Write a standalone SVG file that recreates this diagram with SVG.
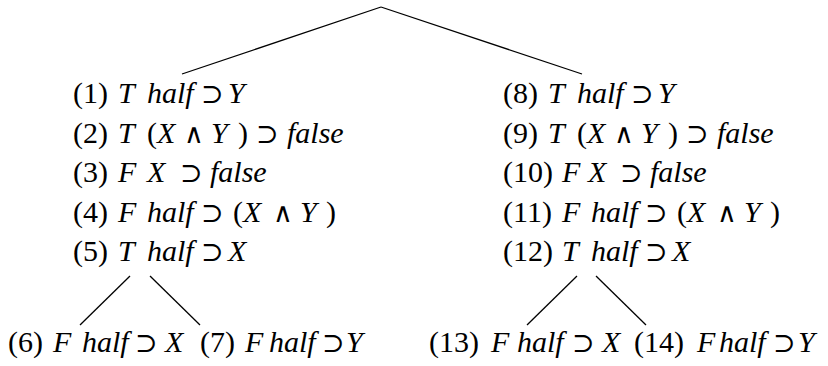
<svg xmlns="http://www.w3.org/2000/svg" width="828" height="366" viewBox="0 0 828 366">
<style>
.t{font-size:30px;fill:#000}
.i{font-style:italic}
.s{font-family:"DejaVu Serif","DejaVu Sans",serif;font-size:27px}
.e{stroke:#000;stroke-width:1.3;fill:none}
</style>
<rect width="828" height="366" fill="#fff"/>
<g id="connectors">
<line class="e" x1="381" y1="7" x2="182" y2="74"/>
<line class="e" x1="381" y1="7" x2="582" y2="74"/>
<line class="e" x1="130" y1="276" x2="80" y2="325"/>
<line class="e" x1="150" y1="276" x2="200" y2="325"/>
<line class="e" x1="577" y1="276" x2="527" y2="325"/>
<line class="e" x1="596" y1="276" x2="646" y2="325"/>
</g>
<g font-family="Liberation Serif, Times New Roman, serif">
<g id="node-left">
<text class="t" y="103"><tspan x="73">(1)</tspan><tspan class="i" x="118">T</tspan><tspan class="i" x="147">half</tspan><tspan class="s" x="201">⊃</tspan><tspan class="i" x="228">Y</tspan></text>
<text class="t" y="142.5"><tspan x="73">(2)</tspan><tspan class="i" x="118">T</tspan><tspan x="147">(</tspan><tspan class="i" x="157">X</tspan><tspan class="s" x="184">∧</tspan><tspan class="i" x="211">Y</tspan><tspan x="238">)</tspan><tspan class="s" x="256">⊃</tspan><tspan class="i" x="287">false</tspan></text>
<text class="t" y="182"><tspan x="73">(3)</tspan><tspan class="i" x="118">F</tspan><tspan class="i" x="147">X</tspan><tspan class="s" x="180">⊃</tspan><tspan class="i" x="210">false</tspan></text>
<text class="t" y="221.5"><tspan x="73">(4)</tspan><tspan class="i" x="118">F</tspan><tspan class="i" x="147">half</tspan><tspan class="s" x="201">⊃</tspan><tspan x="233">(</tspan><tspan class="i" x="243">X</tspan><tspan class="s" x="273">∧</tspan><tspan class="i" x="300">Y</tspan><tspan x="326">)</tspan></text>
<text class="t" y="261"><tspan x="73">(5)</tspan><tspan class="i" x="118">T</tspan><tspan class="i" x="147">half</tspan><tspan class="s" x="201">⊃</tspan><tspan class="i" x="228">X</tspan></text>
</g>
<g id="node-right">
<text class="t" y="103"><tspan x="503">(8)</tspan><tspan class="i" x="548">T</tspan><tspan class="i" x="577">half</tspan><tspan class="s" x="631">⊃</tspan><tspan class="i" x="658">Y</tspan></text>
<text class="t" y="142.5"><tspan x="503">(9)</tspan><tspan class="i" x="548">T</tspan><tspan x="577">(</tspan><tspan class="i" x="587">X</tspan><tspan class="s" x="614">∧</tspan><tspan class="i" x="641">Y</tspan><tspan x="668">)</tspan><tspan class="s" x="686">⊃</tspan><tspan class="i" x="717">false</tspan></text>
<text class="t" y="182"><tspan x="503">(10)</tspan><tspan class="i" x="562">F</tspan><tspan class="i" x="588">X</tspan><tspan class="s" x="620">⊃</tspan><tspan class="i" x="650">false</tspan></text>
<text class="t" y="221.5"><tspan x="503">(11)</tspan><tspan class="i" x="562">F</tspan><tspan class="i" x="591">half</tspan><tspan class="s" x="645">⊃</tspan><tspan x="677">(</tspan><tspan class="i" x="687">X</tspan><tspan class="s" x="717">∧</tspan><tspan class="i" x="744">Y</tspan><tspan x="770">)</tspan></text>
<text class="t" y="261"><tspan x="503">(12)</tspan><tspan class="i" x="562">T</tspan><tspan class="i" x="591">half</tspan><tspan class="s" x="645">⊃</tspan><tspan class="i" x="672">X</tspan></text>
</g>
<g id="node-6"><text class="t" y="352"><tspan x="8">(6)</tspan><tspan class="i" x="53">F</tspan><tspan class="i" x="82">half</tspan><tspan class="s" x="135">⊃</tspan><tspan class="i" x="165">X</tspan></text></g>
<g id="node-7"><text class="t" y="352"><tspan x="200">(7)</tspan><tspan class="i" x="245">F</tspan><tspan class="i" x="269">half</tspan><tspan class="s" x="322">⊃</tspan><tspan class="i" x="346">Y</tspan></text></g>
<g id="node-13"><text class="t" y="352"><tspan x="429">(13)</tspan><tspan class="i" x="491">F</tspan><tspan class="i" x="517">half</tspan><tspan class="s" x="572">⊃</tspan><tspan class="i" x="602">X</tspan></text></g>
<g id="node-14"><text class="t" y="352"><tspan x="634">(14)</tspan><tspan class="i" x="697">F</tspan><tspan class="i" x="719">half</tspan><tspan class="s" x="773">⊃</tspan><tspan class="i" x="798">Y</tspan></text></g>
</g>
</svg>
